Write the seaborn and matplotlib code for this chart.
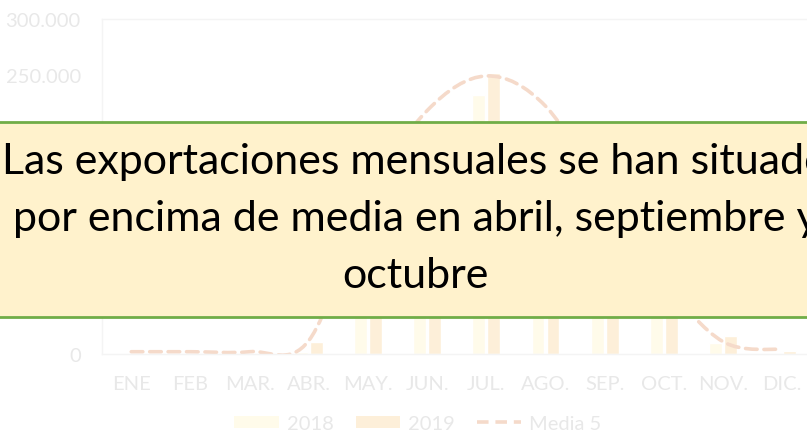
import numpy as np
import pandas as pd
import seaborn as sns
import matplotlib
matplotlib.use('Agg')
import matplotlib.pyplot as plt
from matplotlib.patches import Patch, Rectangle, PathPatch
from matplotlib.lines import Line2D
from matplotlib.path import Path
from matplotlib.ticker import FuncFormatter

meses = ['ENE', 'FEB', 'MAR.', 'ABR.', 'MAY.', 'JUN.', 'JUL.', 'AGO.', 'SEP.', 'OCT.', 'NOV.', 'DIC.']
v2018 = [1000, 0, 0, 2000, 110000, 190000, 232000, 195000, 120000, 60000, 10000, 1000]
v2019 = [0, 0, 0, 11000, 125000, 200000, 252000, 200000, 150000, 80000, 16000, 3000]
media5 = [2000, 2000, 2000, 12000, 140000, 218000, 249000, 222000, 140000, 65000, 11000, 4000]
nota = 'Las exportaciones mensuales se han situado\npor encima de media en abril, septiembre y\noctubre'

c2018 = '#FFFBEA'
c2019 = '#FDEFD9'
cline = '#F5DACA'
ctext = '#E8E8E8'

sns.set_theme(style='white')
plt.rcParams['font.family'] = ['Lato', 'DejaVu Sans']

df = pd.DataFrame({'mes': meses * 2,
                   'valor': v2018 + v2019,
                   'serie': ['2018'] * 12 + ['2019'] * 12})

fig = plt.figure(figsize=(8.07, 4.35), dpi=100)
ax = fig.add_axes([0.126, 0.184, 0.88, 0.77])
sns.barplot(data=df, x='mes', y='valor', hue='serie', palette=[c2018, c2019],
            width=0.51, gap=0.15, ax=ax, legend=False, saturation=1)

# smoothed line (Excel style), bezier through the monthly points
xs = np.arange(len(media5), dtype=float)
ys = np.array(media5, dtype=float)
verts = [(xs[0], ys[0])]
codes = [Path.MOVETO]
n = len(xs)
for i in range(n - 1):
    p0 = np.array([xs[max(i - 1, 0)], ys[max(i - 1, 0)]])
    p1 = np.array([xs[i], ys[i]])
    p2 = np.array([xs[i + 1], ys[i + 1]])
    p3 = np.array([xs[min(i + 2, n - 1)], ys[min(i + 2, n - 1)]])
    c1 = p1 + (p2 - p0) / 6
    c2 = p2 - (p3 - p1) / 6
    verts += [tuple(c1), tuple(c2), tuple(p2)]
    codes += [Path.CURVE4] * 3
ax.add_patch(PathPatch(Path(verts, codes), fill=False, edgecolor=cline, lw=2.6,
                       linestyle=(0, (3.2, 1.9)), capstyle='round'))

ax.set_ylim(0, 300000)
ax.set_xlim(-0.5, 11.5)
ax.set_yticks([0, 250000, 300000])
ax.yaxis.set_major_formatter(FuncFormatter(lambda v, p: f'{int(v):,}'.replace(',', '.')))
ax.set_xlabel('')
ax.set_ylabel('')
ax.tick_params(axis='both', colors=ctext, labelsize=14.5, length=0)
ax.tick_params(axis='x', pad=15)
ax.tick_params(axis='y', pad=15)
for s in ['left', 'top', 'bottom']:
    ax.spines[s].set_color('#F4F4F4')
    ax.spines[s].set_linewidth(1)
ax.spines['right'].set_visible(False)

handles = [Patch(facecolor=c2018, edgecolor='none'),
           Patch(facecolor=c2019, edgecolor='none'),
           Line2D([0], [0], color=cline, lw=2.6, linestyle=(0, (3.2, 1.9)))]
fig.legend(handles, ['2018', '2019', 'Media 5'], loc='center', bbox_to_anchor=(0.518, 0.024),
           ncol=3, frameon=False, fontsize=14.5, labelcolor=ctext, handlelength=2.2,
           handleheight=0.55, columnspacing=1.1, handletextpad=0.4)

# note box over the chart (text runs past the figure edge as in the original slide)
fig.patches.append(Rectangle((-0.02, 0.269), 1.04, 0.448, transform=fig.transFigure,
                             facecolor='#FFF2CC', edgecolor='#70AD47', lw=2, zorder=5))
fig.text(0.515, 0.496, nota, ha='center', va='center', fontsize=31, color='black',
         linespacing=1.62, zorder=6)

fig.savefig('out.png', dpi=100)
